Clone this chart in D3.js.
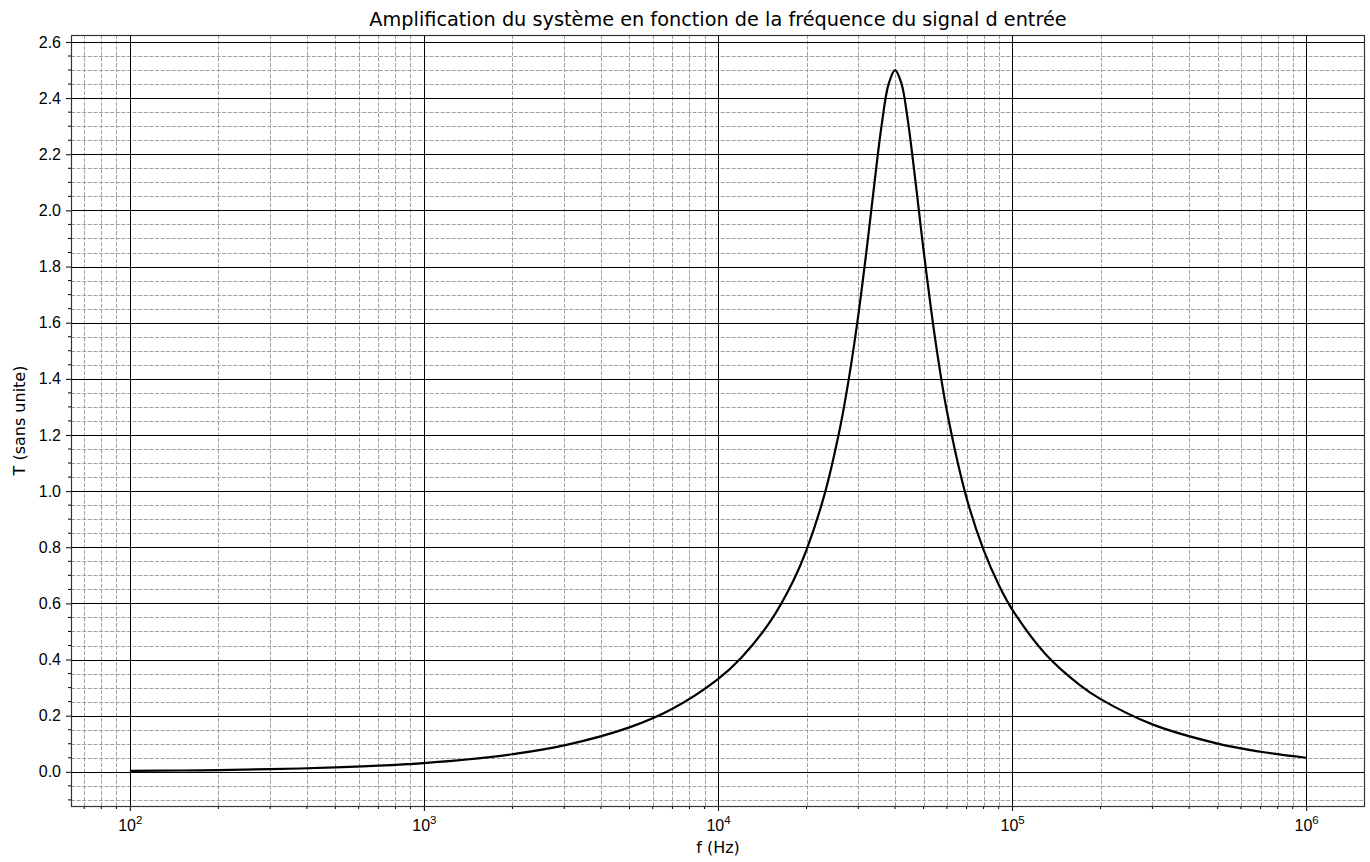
<!DOCTYPE html>
<html>
<head>
<meta charset="utf-8">
<script src="https://cdn.jsdelivr.net/npm/d3@7"></script>
<style>
  body { margin: 0; background: #fff; }
  svg { display: block; font-family: "DejaVu Sans", sans-serif; }
</style>
</head>
<body>
<svg id="chart"></svg>
<script>
// frequencies (Hz) and amplification
const freqs = [100, 150, 200, 300, 500, 700, 1000, 1500, 2000, 3000, 5000, 7000,
  10000, 12000, 15000, 18000, 20000, 23000, 26000, 28000, 30000, 32000, 34000,
  36000, 38000, 40000, 42000, 44000, 46000, 48000, 50000, 55000, 60000, 70000,
  80000, 90000, 100000, 130000, 170000, 200000, 300000, 500000, 700000, 1000000];
const gains = [0.0031, 0.0047, 0.0063, 0.0094, 0.0156, 0.0219, 0.0313, 0.0469, 0.0626, 0.0942, 0.1584, 0.2247,
  0.3304, 0.4066, 0.533, 0.679, 0.7906, 0.9866, 1.226, 1.415, 1.627, 1.858, 2.093,
  2.303, 2.449, 2.5, 2.454, 2.336, 2.180, 2.016, 1.858, 1.528, 1.286, 0.976,
  0.7906, 0.667, 0.579, 0.419, 0.309, 0.259, 0.169, 0.1006, 0.0716, 0.0501];
const yTicks = [0.0, 0.2, 0.4, 0.6, 0.8, 1.0, 1.2, 1.4, 1.6, 1.8, 2.0, 2.2, 2.4, 2.6];
const xDecades = [2, 3, 4, 5, 6];

const width = 1370, height = 862;
const margin = { top: 35, right: 5, bottom: 56, left: 71 };
const iw = width - margin.left - margin.right;
const ih = height - margin.top - margin.bottom;

const svg = d3.select("#chart").attr("width", width).attr("height", height);

// log domain with 5% padding like matplotlib
const lo = Math.log10(d3.min(freqs)), hi = Math.log10(d3.max(freqs));
const padX = (hi - lo) * 0.05;
const x = d3.scaleLog().domain([10 ** (lo - padX), 10 ** (hi + padX)]).range([0, iw]);
const yMin = d3.min(gains), yMax = d3.max(gains);
const padY = (yMax - yMin) * 0.05;
const y = d3.scaleLinear().domain([yMin - padY, yMax + padY]).range([ih, 0]);

const g = svg.append("g").attr("transform", `translate(${margin.left},${margin.top})`);

// minor ticks
const xMinor = [];
for (let d = 1; d <= 6; d++) for (let k = 2; k <= 9; k++) {
  const v = k * 10 ** d;
  if (v >= x.domain()[0] && v <= x.domain()[1]) xMinor.push(v);
}
const xMajor = xDecades.map(d => 10 ** d);
const yMinor = d3.range(-0.1, 2.63, 0.05).map(v => +v.toFixed(2))
  .filter(v => Math.abs(v / 0.2 - Math.round(v / 0.2)) > 1e-6);

// minor grid
const grid = g.append("g");
grid.selectAll(".xmin").data(xMinor).join("line")
  .attr("x1", d => Math.round(x(d)) + 0.5).attr("x2", d => Math.round(x(d)) + 0.5)
  .attr("y1", 0).attr("y2", ih)
  .attr("stroke", "#a0a0a0").attr("stroke-width", 1).attr("stroke-dasharray", "4,1.6");
grid.selectAll(".ymin").data(yMinor).join("line")
  .attr("y1", d => Math.round(y(d)) + 0.5).attr("y2", d => Math.round(y(d)) + 0.5)
  .attr("x1", 0).attr("x2", iw)
  .attr("stroke", "#a0a0a0").attr("stroke-width", 1).attr("stroke-dasharray", "4,1.6");
// major grid
grid.selectAll(".xmaj").data(xMajor).join("line")
  .attr("x1", d => Math.round(x(d)) + 0.5).attr("x2", d => Math.round(x(d)) + 0.5)
  .attr("y1", 0).attr("y2", ih).attr("stroke", "#000").attr("stroke-width", 1);
grid.selectAll(".ymaj").data(yTicks).join("line")
  .attr("y1", d => Math.round(y(d)) + 0.5).attr("y2", d => Math.round(y(d)) + 0.5)
  .attr("x1", 0).attr("x2", iw).attr("stroke", "#000").attr("stroke-width", 1);

// curve
const line = d3.line()
  .x((d, i) => x(freqs[i]))
  .y(d => y(d))
  .curve(d3.curveCatmullRom.alpha(0.5));
g.append("path").datum(gains)
  .attr("d", line)
  .attr("fill", "none").attr("stroke", "#000").attr("stroke-width", 2.2);

// axes
const xAxis = g.append("g").attr("transform", `translate(0,${ih})`)
  .call(d3.axisBottom(x).tickValues(xMajor).tickSize(5).tickPadding(4).tickFormat(""));
xAxis.append("g").selectAll("line").data(xMinor).join("line")
  .attr("x1", d => x(d)).attr("x2", d => x(d)).attr("y1", 0).attr("y2", 3)
  .attr("stroke", "#000");
xAxis.selectAll(".tick").each(function (d) {
  const t = d3.select(this).append("text")
    .attr("y", 25).attr("fill", "#000").attr("font-size", 16).attr("text-anchor", "middle");
  t.append("tspan").text("10");
  t.append("tspan").attr("dy", -7).attr("font-size", 11.5).text(Math.round(Math.log10(d)));
});

const yAxis = g.append("g")
  .call(d3.axisLeft(y).tickValues(yTicks).tickSize(5).tickPadding(5).tickFormat(d3.format(".1f")));
yAxis.selectAll("text").attr("font-size", 16).attr("fill", "#000");
yAxis.append("g").selectAll("line").data(yMinor).join("line")
  .attr("y1", d => y(d)).attr("y2", d => y(d)).attr("x1", 0).attr("x2", -3)
  .attr("stroke", "#000");
[xAxis, yAxis].forEach(a => a.select(".domain").remove());

// frame
g.append("rect").attr("x", 0.5).attr("y", 0.5).attr("width", iw - 1).attr("height", ih)
  .attr("fill", "none").attr("stroke", "#333").attr("stroke-width", 1.2);

// labels
svg.append("text").attr("x", margin.left + iw / 2).attr("y", 26)
  .attr("text-anchor", "middle").attr("font-size", 19.3).attr("fill", "#000")
  .text("Amplification du système en fonction de la fréquence du signal d entrée");
svg.append("text").attr("x", margin.left + iw / 2).attr("y", 853)
  .attr("text-anchor", "middle").attr("font-size", 16).attr("fill", "#000")
  .text("f (Hz)");
svg.append("text")
  .attr("transform", `translate(25,${margin.top + ih / 2}) rotate(-90)`)
  .attr("text-anchor", "middle").attr("font-size", 16).attr("fill", "#000")
  .text("T (sans unite)");
</script>
</body>
</html>
